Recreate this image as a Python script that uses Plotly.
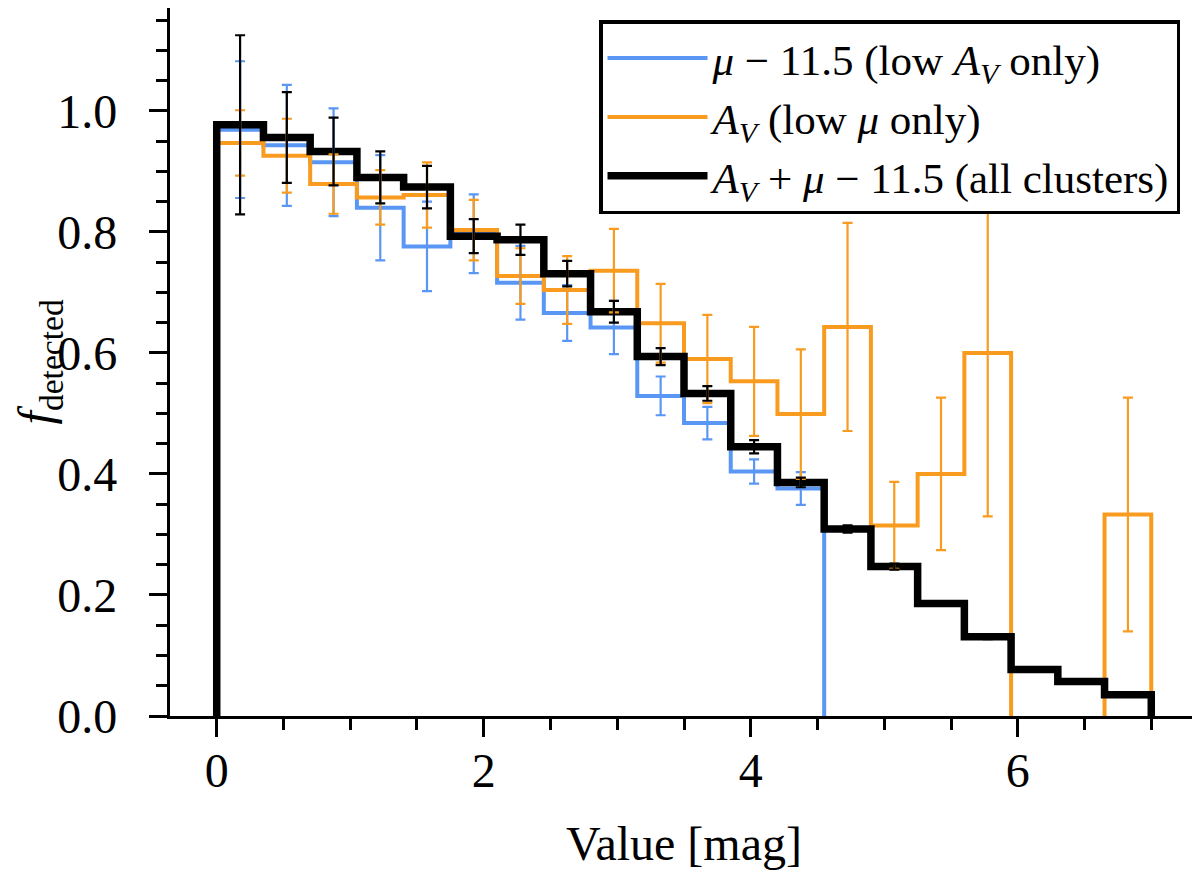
import plotly.graph_objects as go

# Bin edges [mag]
bin_edges = [0.0, 0.35, 0.7, 1.05, 1.4, 1.75, 2.1, 2.45, 2.8, 3.15, 3.5,
             3.85, 4.2, 4.55, 4.9, 5.25, 5.6, 5.95, 6.3, 6.65, 7.0]

# mu - 11.5 (low A_V only)
mu_vals = [0.969, 0.943, 0.915, 0.840, 0.776, 0.797, 0.716, 0.666, 0.642, 0.529,
           0.484, 0.404, 0.376, 0.0, 0.0, 0.0, 0.0, 0.0, 0.0, 0.0]
mu_errs = [0.113, 0.100, 0.089, 0.087, 0.074, 0.065, 0.061, 0.046, 0.044, 0.032,
           0.027, 0.020, 0.027, None, None, None, None, None, None, None]

# A_V (low mu only)
av_vals = [0.947, 0.926, 0.879, 0.857, 0.861, 0.803, 0.727, 0.704, 0.736, 0.649,
           0.590, 0.553, 0.499, 0.643, 0.315, 0.400, 0.600, 0.0, 0.0, 0.333]
av_errs = [0.054, 0.061, 0.049, 0.045, 0.054, 0.050, 0.046, 0.056, 0.069, 0.065,
           0.073, 0.090, 0.107, 0.172, 0.072, 0.126, 0.270, None, None, 0.193]

# A_V + mu - 11.5 (all clusters)
all_vals = [0.977, 0.956, 0.933, 0.890, 0.874, 0.793, 0.787, 0.731, 0.668, 0.594,
            0.533, 0.445, 0.386, 0.309, 0.247, 0.186, 0.131, 0.077, 0.057, 0.035]
all_errs = [0.148, 0.075, 0.056, 0.043, 0.035, 0.028, 0.025, 0.021, 0.018, 0.014,
            0.012, 0.011, 0.008, 0.006, 0.005, 0.004, 0.004, None, None, None]

BLUE = "#5A97F5"
ORANGE = "#F89B1E"
BLACK = "#000000"
FONT = "Liberation Serif"

series = [
    ("<i>μ</i> − 11.5 (low <i>A<sub>V</sub></i> only)", mu_vals, mu_errs, BLUE, 4),
    ("<i>A<sub>V</sub></i> (low <i>μ</i> only)", av_vals, av_errs, ORANGE, 4),
    ("<i>A<sub>V</sub></i> + <i>μ</i> − 11.5 (all clusters)", all_vals, all_errs, BLACK, 7.5),
]

centers = [(a + b) / 2 for a, b in zip(bin_edges[:-1], bin_edges[1:])]


def step_path(edges, vals):
    # outline like histtype='step'; runs lying on y=0 are left out (hidden under the spine)
    pts = [(edges[0], 0)]
    for i, v in enumerate(vals):
        pts.append((edges[i], v))
        pts.append((edges[i + 1], v))
    pts.append((edges[-1], 0))
    xs, ys = [pts[0][0]], [pts[0][1]]
    for (x0, y0), (x1, y1) in zip(pts[:-1], pts[1:]):
        if y0 == 0 and y1 == 0 and x1 != x0:
            xs.append(None)
            ys.append(None)
        xs.append(x1)
        ys.append(y1)
    return xs, ys


fig = go.Figure()

for name, vals, errs, color, lw in series:
    xs, ys = step_path(bin_edges, vals)
    fig.add_trace(go.Scatter(
        x=xs, y=ys, mode="lines", connectgaps=False,
        line=dict(color=color, width=lw), name=name,
    ))

# error bars at bin centres
for name, vals, errs, color, lw in series:
    keep = [i for i, e in enumerate(errs) if e is not None]
    fig.add_trace(go.Scatter(
        x=[centers[i] for i in keep], y=[vals[i] for i in keep],
        mode="markers", marker=dict(size=1, color=color, opacity=0),
        error_y=dict(type="data", array=[errs[i] for i in keep], color=color,
                     thickness=2.2, width=5),
        showlegend=False, hoverinfo="skip",
    ))

axis_common = dict(
    showline=True, linecolor="black", linewidth=3.3, mirror=True,
    ticks="outside", ticklen=18, tickwidth=3, tickcolor="black",
    showgrid=False, zeroline=False, automargin=False,
    tickfont=dict(family=FONT, size=48, color="black"),
)

fig.update_xaxes(
    range=[-0.35, 7.35], dtick=2, tick0=0, ticklabelstandoff=-8,
    minor=dict(dtick=0.5, ticks="outside", ticklen=11, tickwidth=2.5, tickcolor="black"),
    title=dict(text="Value [mag]", font=dict(family=FONT, size=48, color="black"), standoff=31),
    **axis_common,
)
fig.update_yaxes(
    range=[0, 1.170], dtick=0.2, tick0=0, tickformat=".1f", ticklabelstandoff=22,
    minor=dict(dtick=0.05, ticks="outside", ticklen=11, tickwidth=2.5, tickcolor="black"),
    **axis_common,
)

# y title placed by hand so it can sit close to the page edge
fig.add_annotation(
    text="<i>f</i><sub>detected</sub>", textangle=-90,
    xref="paper", yref="paper", x=-0.127, y=0.5,
    xanchor="center", yanchor="middle", showarrow=False,
    font=dict(family=FONT, size=48, color="black"),
)

fig.update_layout(
    width=1200, height=873,
    margin=dict(l=162, r=10, t=0, b=165),
    plot_bgcolor="white", paper_bgcolor="white",
    font=dict(family=FONT, color="black"),
    legend=dict(
        x=0.9825, y=0.983, xanchor="right", yanchor="top",
        bgcolor="white", bordercolor="black", borderwidth=3.5,
        font=dict(family=FONT, size=43, color="black"),
        itemwidth=100,
    ),
)

fig.write_html("out.html")
